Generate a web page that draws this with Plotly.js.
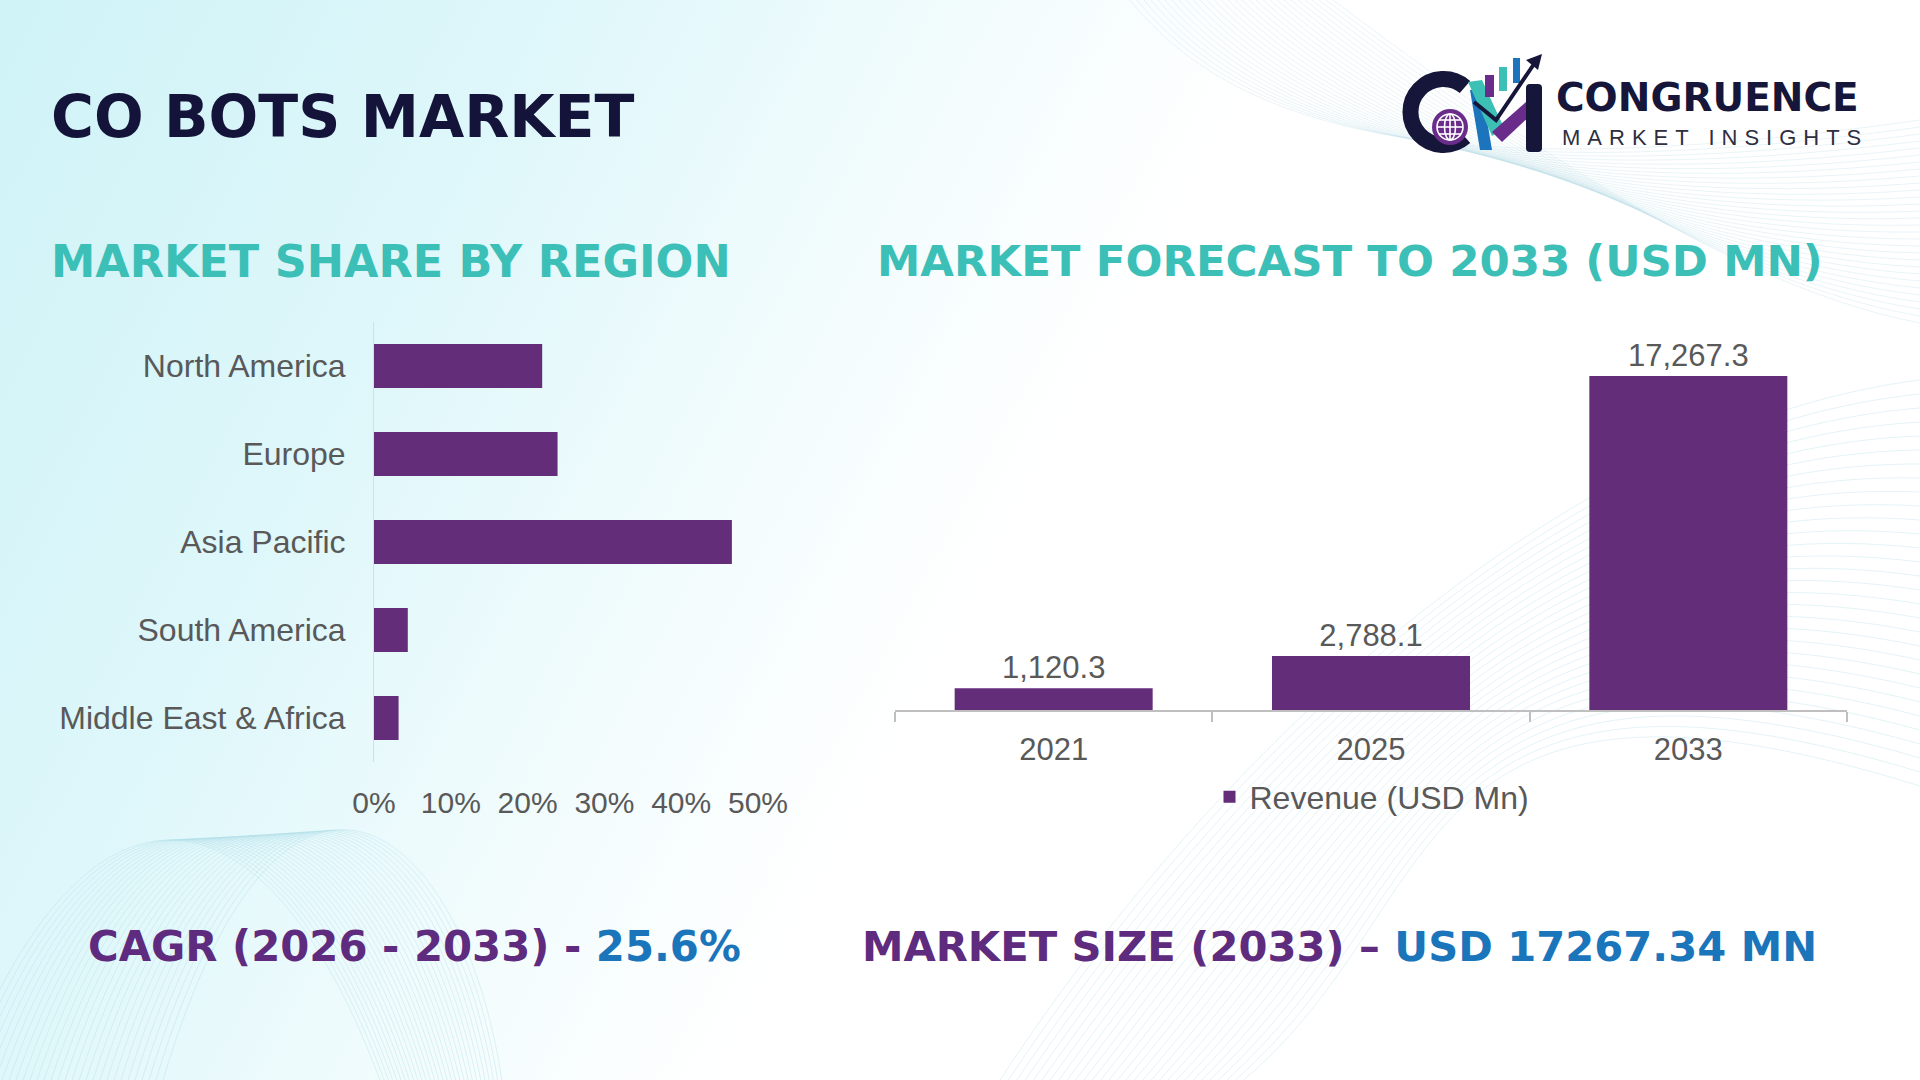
<!DOCTYPE html>
<html>
<head>
<meta charset="utf-8">
<script src="https://cdn.plot.ly/plotly-3.0.1.min.js"></script>
<style>
  html, body { margin:0; padding:0; width:1920px; height:1080px; overflow:hidden; }
  body { position:relative; background:#ffffff; font-family:"Liberation Sans", Arial, sans-serif; }
  #bg { position:absolute; left:0; top:0; width:1920px; height:1080px;
        background: linear-gradient(118deg, #cff3f7 0%, #def7fa 22%, #f3fcfd 40%, #ffffff 52%); }
  #waves { position:absolute; left:0; top:0; }
  #chart { position:absolute; left:0; top:0; width:1920px; height:1080px; }
  #logo { position:absolute; left:1400px; top:50px; width:500px; height:110px; }
  #logo .t1 { position:absolute; left:156px; top:26px; font-family:"DejaVu Sans", sans-serif; font-weight:800;
              font-size:39px; letter-spacing:0px; color:#16163a; line-height:44px; white-space:nowrap; }
  #logo .t2 { position:absolute; left:162px; top:76px; font-family:"Liberation Sans", Arial, sans-serif; font-weight:400;
              font-size:22px; letter-spacing:7px; color:#2e2e3e; line-height:24px; white-space:nowrap; }
</style>
</head>
<body>
<div id="bg"></div>
<svg id="waves" width="1920" height="1080"></svg>
<div id="chart"></div>
<div id="logo">
  <svg width="150" height="110" style="position:absolute;left:0;top:0">
    <!-- C ring -->
    <path d="M 65 37 A 33 33 0 1 0 65 87" fill="none" stroke="#16163a" stroke-width="16"/>
    <!-- globe -->
    <circle cx="50" cy="77" r="18" fill="#6a2c8a"/>
    <g stroke="#ffffff" stroke-width="1.6" fill="none">
      <circle cx="50" cy="77" r="13"/>
      <ellipse cx="50" cy="77" rx="5.5" ry="13"/>
      <line x1="37" y1="77" x2="63" y2="77"/>
      <line x1="39" y1="70" x2="61" y2="70"/>
      <line x1="39" y1="84" x2="61" y2="84"/>
      <line x1="50" y1="64" x2="50" y2="90"/>
    </g>
    <!-- M legs -->
    <path d="M 70 40 L 82 40 L 92 100 L 80 100 Z" fill="#1c75bc"/>
    <path d="M 68 32 L 82 30 L 104 78 L 92 86 Z" fill="#3cc0b6"/>
    <path d="M 92 82 L 126 52 L 132 64 L 102 92 Z" fill="#6a2c8a"/>
    <rect x="126" y="34" width="16" height="68" rx="4" fill="#16163a"/>
    <!-- bars -->
    <rect x="85" y="25" width="9" height="22" fill="#6a2c8a"/>
    <rect x="99" y="17" width="8" height="24" fill="#3cc0b6"/>
    <rect x="113" y="8" width="7" height="25" fill="#1c75bc"/>
    <!-- arrow -->
    <path d="M 74 52 L 96 70 L 134 14" fill="none" stroke="#16163a" stroke-width="4"/>
    <path d="M 142 4 L 126 10 L 138 20 Z" fill="#16163a"/>
  </svg>
  <div class="t1">CONGRUENCE</div>
  <div class="t2">MARKET INSIGHTS</div>
</div>
<script>
// ---------------- data ----------------
const regions = ['North America', 'Europe', 'Asia Pacific', 'South America', 'Middle East & Africa'];
const regionShare = [0.219, 0.239, 0.466, 0.044, 0.032];
const shareTickVals = [0, 0.1, 0.2, 0.3, 0.4, 0.5];
const years = ['2021', '2025', '2033'];
const revenue = [1120.3, 2788.1, 17267.3];
const revenueName = 'Revenue (USD Mn)';
const mainTitle = 'CO BOTS MARKET';
const leftTitle = 'MARKET SHARE BY REGION';
const rightTitle = 'MARKET FORECAST TO 2033 (USD MN)';
const cagrLabel = 'CAGR (2026 - 2033) - ';
const cagrValue = '25.6%';
const sizeLabel = 'MARKET SIZE (2033) – ';
const sizeValue = 'USD 17267.34 MN';

// ---------------- decorative background waves ----------------
(function () {
  const svg = document.getElementById('waves');
  const ns = 'http://www.w3.org/2000/svg';
  function add(d, color, op) {
    const p = document.createElementNS(ns, 'path');
    p.setAttribute('d', d);
    p.setAttribute('fill', 'none');
    p.setAttribute('stroke', color);
    p.setAttribute('stroke-width', '1');
    p.setAttribute('opacity', op);
    svg.appendChild(p);
  }
  for (let i = 0; i < 30; i++) {
    const o = i * 7;
    add(`M ${-40 + o} 1080 C ${80 + o} ${760 - o * 0.4}, ${260 + o} ${760 + o * 0.3}, ${380 + o * 0.6} 1080`, '#a9d9e6', 0.35);
    add(`M ${1000 + o * 1.2} 1080 C ${1250 + o} ${700 + o}, ${1600 - o} ${420 + o}, ${1920} ${380 + o * 2}`, '#a9d9e6', 0.32);
    add(`M ${1130 + o} 0 C ${1250 + o} ${150 - o * 0.3}, ${1500 + o} ${180 + o * 0.5}, 1920 ${120 + o}`, '#b7dbe6', 0.3);
  }
})();

// ---------------- chart ----------------
const W = 1920, H = 1080;
const fx = px => px / W;
const fy = py => 1 - py / H;
const gray = '#595959';
const barColor = '#632d79';

const traces = [
  {
    type: 'bar', orientation: 'h',
    y: regions, x: regionShare,
    xaxis: 'x', yaxis: 'y',
    width: 0.5,
    marker: { color: barColor },
    showlegend: false, hoverinfo: 'y+x'
  },
  {
    type: 'bar',
    x: years, y: revenue,
    xaxis: 'x2', yaxis: 'y2',
    name: revenueName,
    width: 0.624,
    marker: { color: barColor },
    texttemplate: '%{y:,.1f}',
    textposition: 'outside',
    textfont: { family: 'Liberation Sans, Arial, sans-serif', size: 31, color: gray },
    cliponaxis: false,
    showlegend: true
  }
];

const layout = {
  width: W, height: H,
  margin: { l: 0, r: 0, t: 0, b: 0 },
  paper_bgcolor: 'rgba(0,0,0,0)',
  plot_bgcolor: 'rgba(0,0,0,0)',
  font: { family: 'Liberation Sans, Arial, sans-serif', color: gray, size: 31 },
  xaxis: {
    domain: [fx(374), fx(758)],
    range: [0, 0.5],
    tickvals: shareTickVals,
    tickformat: '.0%',
    showgrid: false, zeroline: false, showline: false,
    ticks: '',
    ticklabelstandoff: 20,
    tickfont: { size: 30, color: gray },
    fixedrange: true
  },
  yaxis: {
    domain: [fy(762), fy(322)],
    autorange: 'reversed',
    showgrid: false, zeroline: false,
    showline: true, linecolor: '#dcdcdc', linewidth: 1,
    ticks: '',
    ticklabelstandoff: 21,
    tickfont: { size: 32, color: gray },
    fixedrange: true
  },
  xaxis2: {
    domain: [fx(895), fx(1847)],
    anchor: 'y2',
    type: 'category',
    showgrid: false, zeroline: false,
    showline: true, linecolor: '#bfbfbf', linewidth: 1.5,
    ticks: 'outside', tickson: 'boundaries', ticklen: 10, tickcolor: '#bfbfbf', tickwidth: 1.5,
    ticklabelstandoff: 11,
    tickfont: { size: 31, color: gray },
    fixedrange: true
  },
  yaxis2: {
    domain: [fy(710), fy(330)],
    anchor: 'x2',
    range: [0, Math.max(...revenue) * 1.138],
    visible: false,
    fixedrange: true
  },
  showlegend: true,
  legend: {
    orientation: 'h',
    x: fx(1372), xanchor: 'center',
    y: fy(797), yanchor: 'middle',
    bgcolor: 'rgba(0,0,0,0)',
    font: { size: 32, color: gray },
    itemclick: false, itemdoubleclick: false
  },
  annotations: [
    { text: mainTitle, xref: 'paper', yref: 'paper', x: fx(49), y: fy(117), xanchor: 'left', yanchor: 'middle',
      showarrow: false, font: { family: 'DejaVu Sans, sans-serif', weight: 700, size: 58.5, color: '#14143a' } },
    { text: leftTitle, xref: 'paper', yref: 'paper', x: fx(49), y: fy(261), xanchor: 'left', yanchor: 'middle',
      showarrow: false, font: { family: 'DejaVu Sans, sans-serif', weight: 700, size: 44.5, color: '#3cbfb7' } },
    { text: rightTitle, xref: 'paper', yref: 'paper', x: fx(875), y: fy(261), xanchor: 'left', yanchor: 'middle',
      showarrow: false, font: { family: 'DejaVu Sans, sans-serif', weight: 700, size: 43.5, color: '#3cbfb7' } },
    { text: cagrLabel + '<span style="color:#1b75bb">' + cagrValue + '</span>', xref: 'paper', yref: 'paper',
      x: fx(86), y: fy(946), xanchor: 'left', yanchor: 'middle',
      showarrow: false, font: { family: 'DejaVu Sans, sans-serif', weight: 700, size: 41.8, color: '#5e2b7e' } },
    { text: sizeLabel + '<span style="color:#1b75bb">' + sizeValue + '</span>', xref: 'paper', yref: 'paper',
      x: fx(860), y: fy(946), xanchor: 'left', yanchor: 'middle',
      showarrow: false, font: { family: 'DejaVu Sans, sans-serif', weight: 700, size: 41.7, color: '#5e2b7e' } }
  ]
};

Plotly.newPlot('chart', traces, layout, { displayModeBar: false, staticPlot: false, responsive: false });
</script>
</body>
</html>
